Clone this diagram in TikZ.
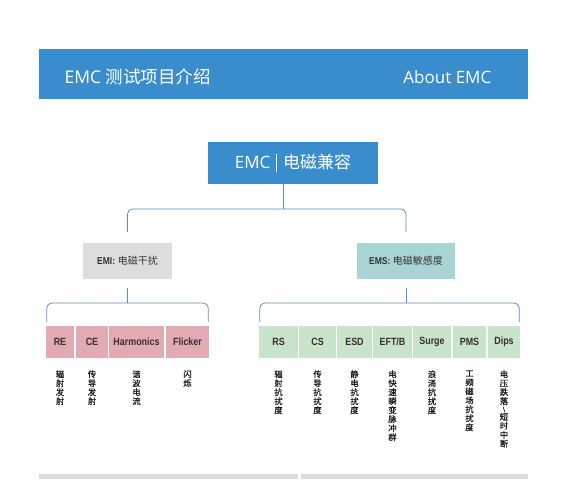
\documentclass[tikz,border=0pt]{standalone}
\usepackage{graphicx}
\usepackage{fontspec}
\setmainfont{Open Sans}
\newfontfamily\cjk{Noto Sans CJK SC}
\newfontfamily\cjkv[FakeBold=0.6]{Noto Sans CJK SC}
\newfontfamily\lbl[FakeStretch=0.85]{Liberation Sans}
\definecolor{hdrblue}{HTML}{3A8DCC}
\definecolor{pinkc}{HTML}{E2AAB2}
\definecolor{greenc}{HTML}{C8E4CA}
\definecolor{tealc}{HTML}{A9D4D4}
\definecolor{grayc}{HTML}{DDDDDD}
\definecolor{barc}{HTML}{DCDCDC}
\definecolor{connc}{HTML}{5B8DB8}
\definecolor{labc}{HTML}{3A2E30}
\tikzset{
  conn/.style={draw=connc, line width=0.8pt, rounded corners=5pt},
  cellbox/.style={minimum height=32pt, inner sep=0pt, text=labc,
    font=\lbl\bfseries\fontsize{10.5}{12}\selectfont},
  pinkbox/.style={cellbox, fill=pinkc},
  greenbox/.style={cellbox, fill=greenc},
  midbox/.style={minimum height=36pt, inner sep=0pt, text=black!80,
    font=\fontsize{10}{12}\selectfont},
  vtext/.style={anchor=north, align=center, inner sep=0pt, text=black!90,
    font=\cjkv\fontsize{8.3}{9}\selectfont},
}
\begin{document}
\begin{tikzpicture}[x=1pt,y=-1pt]
\useasboundingbox[fill=white] (0,0) rectangle (577,479);

% header
\node[fill=hdrblue, minimum width=489pt, minimum height=50pt, inner sep=0pt] (hdr) at (283.5,74) {};
\node[anchor=base west, inner sep=0pt, text=white, font=\fontsize{17.5}{20}\selectfont] (ttl) at (64.5,83) {EMC {\cjk 测试项目介绍}};
\node[anchor=base east, inner sep=0pt, text=white, font=\fontsize{17}{20}\selectfont] (about) at (491.5,83) {About EMC};

% top box
\node[fill=hdrblue, minimum width=170pt, minimum height=42pt, inner sep=0pt, text=white, font=\fontsize{17}{20}\selectfont] (emc) at (293,163)
  {EMC\hspace{6pt}\rule[-4pt]{0.6pt}{18pt}\hspace{6pt}{\cjk 电磁兼容}};

% second level
\node[midbox, fill=grayc, minimum width=89pt] (emi) at (127.5,261) {{\lbl\bfseries EMI:} {\cjk 电磁干扰}};
\node[midbox, fill=tealc, minimum width=98pt] (ems) at (406,261) {{\lbl\bfseries EMS:} {\cjk 电磁敏感度}};

% third level (EMI)
\node[pinkbox, minimum width=28pt] (re) at (60,342) {RE};
\node[pinkbox, minimum width=32pt] (ce) at (92,342) {CE};
\node[pinkbox, minimum width=55pt] (harm) at (136.5,342) {Harmonics};
\node[pinkbox, minimum width=43pt] (fl) at (187.5,342) {Flicker};

% third level (EMS)
\node[greenbox, minimum width=39pt] (rs) at (278.5,342) {RS};
\node[greenbox, minimum width=37pt] (cs) at (317.5,342) {CS};
\node[greenbox, minimum width=35pt] (esd) at (354.5,342) {ESD};
\node[greenbox, minimum width=39pt] (eft) at (392.5,342) {EFT/B};
\node[greenbox, minimum width=38pt] (surge) at (432,342) {Surge};
\node[greenbox, minimum width=33pt] (pms) at (469.5,342) {PMS};
\node[greenbox, minimum width=32pt] (dips) at (504,342) {Dips};

% vertical descriptions
\node[vtext] (tre) at ([yshift=-12pt]re.south) {辐\\射\\发\\射};
\node[vtext] (tce) at ([yshift=-12pt]ce.south) {传\\导\\发\\射};
\node[vtext] (tharm) at ([yshift=-12pt]harm.south) {谐\\波\\电\\流};
\node[vtext] (tfl) at ([yshift=-12pt]fl.south) {闪\\烁};
\node[vtext] (trs) at ([yshift=-12pt]rs.south) {辐\\射\\抗\\扰\\度};
\node[vtext] (tcs) at ([yshift=-12pt]cs.south) {传\\导\\抗\\扰\\度};
\node[vtext] (tesd) at ([yshift=-12pt]esd.south) {静\\电\\抗\\扰\\度};
\node[vtext] (teft) at ([yshift=-12pt]eft.south) {电\\快\\速\\瞬\\变\\脉\\冲\\群};
\node[vtext] (tsurge) at ([yshift=-12pt]surge.south) {浪\\涌\\抗\\扰\\度};
\node[vtext] (tpms) at ([yshift=-12pt]pms.south) {工\\频\\磁\\场\\抗\\扰\\度};
\node[vtext] (tdips) at ([yshift=-12pt]dips.south) {电\\压\\跌\\落\\[-2pt]{\fontsize{6}{6}\selectfont\symbol{"005C}}\\[-0.5pt]短\\时\\中\\断};

% connectors
\coordinate (j0) at (283,209);
\coordinate (j1) at (127.5,303);
\coordinate (j2) at (406,303);
\draw[conn] (emc.south -| j0) -- (j0);
\draw[conn] ([yshift=11pt]emi.north) |- (j0) -| ([yshift=11pt]ems.north);
\draw[conn] ([yshift=-9pt]emi.south) -- (j1);
\draw[conn] ([shift={(1pt,4pt)}]re.north west) |- (j1) -| ([shift={(-1pt,4pt)}]fl.north east);
\draw[conn] ([yshift=-9pt]ems.south) -- (j2);
\draw[conn] ([shift={(1pt,4pt)}]rs.north west) |- (j2) -| ([shift={(-1pt,4pt)}]dips.north east);

% bottom bars
\fill[barc] (39,474) rectangle (298,479);
\fill[barc] (301,474) rectangle (528,479);
\end{tikzpicture}
\end{document}
